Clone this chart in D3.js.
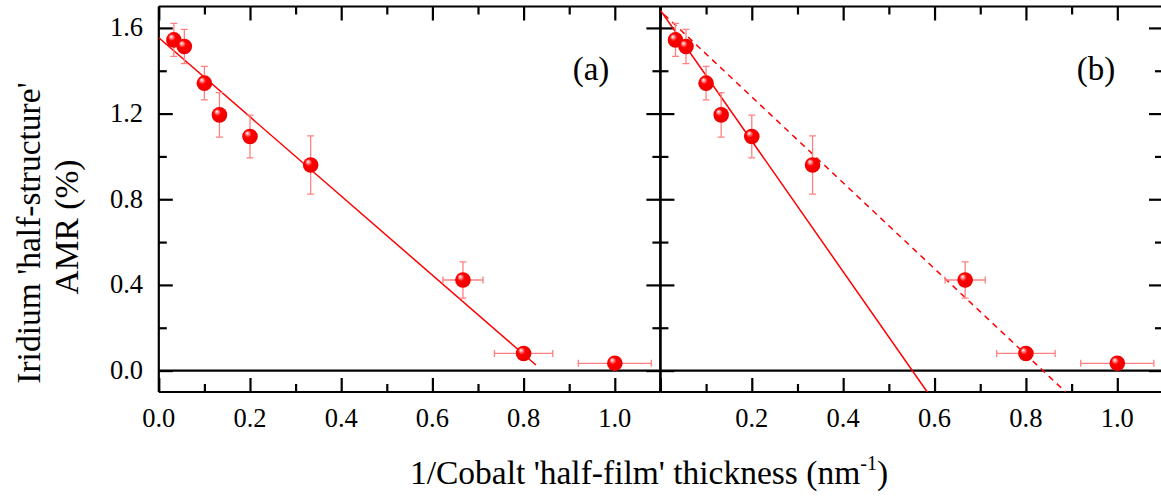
<!DOCTYPE html>
<html>
<head>
<meta charset="utf-8">
<script src="https://cdn.jsdelivr.net/npm/d3@7"></script>
<style>
  html, body { margin: 0; padding: 0; background: #fff; }
  svg { display: block; }
</style>
</head>
<body>
<svg id="chart" width="1161" height="500" font-family="'Liberation Serif', 'Times New Roman', Times, 'DejaVu Serif', serif"></svg>
<script>
// ---- data ----
const xValues = [0.033, 0.056, 0.1, 0.133, 0.2, 0.333, 0.667, 0.8, 1.0];
const amrValues = [1.544, 1.513, 1.342, 1.194, 1.093, 0.960, 0.423, 0.080, 0.034];
const amrErrors = [0.077, 0.080, 0.078, 0.104, 0.100, 0.136, 0.085, 0, 0];
const xErrors = [0, 0, 0, 0, 0, 0, 0.044, 0.064, 0.080];

const fitAx = [0, 0.827];
const fitAy = [1.554, 0.026];
const fitBx = [0, 0.584];
const fitBy = [1.683, -0.1];
const fitBdashX = [0.008, 0.887];
const fitBdashY = [1.663, -0.1];

const xTickLabelsA = [0, 0.2, 0.4, 0.6, 0.8, 1.0];
const xTickLabelsB = [0.2, 0.4, 0.6, 0.8, 1.0];
const xMajorTicks = [0, 0.2, 0.4, 0.6, 0.8, 1.0];
const xMinorTicks = [0.1, 0.3, 0.5, 0.7, 0.9, 1.1];
const yTickLabels = [0, 0.4, 0.8, 1.2, 1.6];
const yMinorTicks = [0.2, 0.6, 1.0, 1.4];
const panelLabels = ["(a)", "(b)"];
const xTitle = "1/Cobalt 'half-film' thickness (nm";
const xTitleSup = "-1";
const yTitleLines = ["Iridium 'half-structure'", "AMR (%)"];

// ---- layout ----
const svg = d3.select("#chart");
const plotTop = 6.5, plotBottom = 392;
const y = d3.scaleLinear().domain([-0.1, 1.7]).range([plotBottom, plotTop]);
const panels = [
  { x: d3.scaleLinear().domain([0, 1.1]).range([158.8, 660.4]), labels: xTickLabelsA, name: panelLabels[0], labelX: 591,
    fits: [{xs: fitAx, ys: fitAy, dash: null}] },
  { x: d3.scaleLinear().domain([0, 1.1]).range([660.4, 1163]), labels: xTickLabelsB, name: panelLabels[1], labelX: 1096,
    fits: [{xs: fitBx, ys: fitBy, dash: null}, {xs: fitBdashX, ys: fitBdashY, dash: "6,5"}] }
];

const defs = svg.append("defs");
const grad = defs.append("radialGradient").attr("id", "ball")
  .attr("cx", "45%").attr("cy", "45%").attr("r", "60%").attr("fx", "32%").attr("fy", "28%");
grad.append("stop").attr("offset", "0%").attr("stop-color", "#ffffff");
grad.append("stop").attr("offset", "14%").attr("stop-color", "#ffa0a0");
grad.append("stop").attr("offset", "38%").attr("stop-color", "#ff0000");
grad.append("stop").attr("offset", "100%").attr("stop-color", "#ea0000");

const MAJ = 14, MIN = 8;

panels.forEach((p, i) => {
  const x = p.x;
  const [x0, x1] = x.range();
  const g = svg.append("g");
  const clipId = "clip" + i;
  defs.append("clipPath").attr("id", clipId).append("rect")
    .attr("x", x0).attr("y", plotTop).attr("width", x1 - x0).attr("height", plotBottom - plotTop);

  const axes = g.append("g");
  const axB = axes.append("g").attr("transform", `translate(0,${plotBottom})`)
    .call(d3.axisTop(x).tickValues(xMajorTicks).tickSize(MAJ).tickFormat(""));
  const axBm = axes.append("g").attr("transform", `translate(0,${plotBottom})`)
    .call(d3.axisTop(x).tickValues(xMinorTicks).tickSize(MIN).tickFormat(""));
  const axT = axes.append("g").attr("transform", `translate(0,${plotTop})`)
    .call(d3.axisBottom(x).tickValues(xMajorTicks).tickSize(MAJ).tickFormat(""));
  const axTm = axes.append("g").attr("transform", `translate(0,${plotTop})`)
    .call(d3.axisBottom(x).tickValues(xMinorTicks).tickSize(MIN).tickFormat(""));
  const axL = axes.append("g").attr("transform", `translate(${x0},0)`)
    .call(d3.axisRight(y).tickValues(yTickLabels).tickSize(MAJ).tickFormat(""));
  const axLm = axes.append("g").attr("transform", `translate(${x0},0)`)
    .call(d3.axisRight(y).tickValues(yMinorTicks).tickSize(MIN).tickFormat(""));
  const axR = axes.append("g").attr("transform", `translate(${x1},0)`)
    .call(d3.axisLeft(y).tickValues(yTickLabels).tickSize(MAJ).tickFormat(""));
  const axRm = axes.append("g").attr("transform", `translate(${x1},0)`)
    .call(d3.axisLeft(y).tickValues(yMinorTicks).tickSize(MIN).tickFormat(""));

  [axBm, axTm, axLm, axRm].forEach(a => a.select(".domain").remove());
  axB.select(".domain").attr("d", `M${x0},0H${x1}`);
  axT.select(".domain").attr("d", `M${x0},0H${x1}`);
  axL.select(".domain").attr("d", `M0,${plotTop}V${plotBottom}`);
  axR.select(".domain").attr("d", `M0,${plotTop}V${plotBottom}`);
  axes.selectAll(".domain").attr("stroke", "#000").attr("stroke-width", 2.2);
  axes.selectAll(".tick line").attr("stroke", "#000").attr("stroke-width", 2.2);

  // tick labels
  g.append("g").selectAll("text").data(p.labels).join("text")
    .attr("x", d => x(d)).attr("y", 427).attr("text-anchor", "middle")
    .attr("font-size", 26.5).attr("fill", "#000").text(d => d3.format(".1f")(d));

  // zero line
  g.append("line").attr("x1", x0).attr("x2", x1).attr("y1", y(0)).attr("y2", y(0))
    .attr("stroke", "#000").attr("stroke-width", 2.2);

  // panel label
  g.append("text").attr("x", p.labelX).attr("y", 80).attr("text-anchor", "middle")
    .attr("font-size", 33).attr("fill", "#000").text(p.name);

  const dg = g.append("g").attr("clip-path", `url(#${clipId})`);
  p.fits.forEach(f => {
    const line = d3.line().x(d => x(d[0])).y(d => y(d[1]));
    const path = dg.append("path").datum(d3.zip(f.xs, f.ys)).attr("d", line)
      .attr("fill", "none").attr("stroke", "#ff0000").attr("stroke-width", 1.5);
    if (f.dash) path.attr("stroke-dasharray", f.dash);
  });

  const pts = d3.range(xValues.length).map(k => ({ x: xValues[k], y: amrValues[k], ey: amrErrors[k], ex: xErrors[k] }));
  const eb = dg.append("g").attr("stroke", "#ff8080").attr("stroke-width", 1.3).attr("fill", "none");
  const cap = 3.5;
  pts.filter(d => d.ey > 0).forEach(d => {
    const cx = x(d.x), ya = y(d.y + d.ey), yb = y(d.y - d.ey);
    eb.append("path").attr("d", `M${cx},${ya}V${yb}M${cx - cap},${ya}H${cx + cap}M${cx - cap},${yb}H${cx + cap}`);
  });
  pts.filter(d => d.ex > 0).forEach(d => {
    const cy = y(d.y), xa = x(d.x - d.ex), xb = x(d.x + d.ex);
    eb.append("path").attr("d", `M${xa},${cy}H${xb}M${xa},${cy - cap}V${cy + cap}M${xb},${cy - cap}V${cy + cap}`);
  });
  dg.append("g").selectAll("circle").data(pts).join("circle")
    .attr("cx", d => x(d.x)).attr("cy", d => y(d.y)).attr("r", 7.8)
    .attr("fill", "url(#ball)");
});

// y tick labels
svg.append("g").selectAll("text").data(yTickLabels).join("text")
  .attr("x", 143).attr("y", d => y(d) + 8.5).attr("text-anchor", "end")
  .attr("font-size", 26.5).attr("fill", "#000").text(d => d3.format(".1f")(d));

// x title
const xt = svg.append("text").attr("x", 649).attr("y", 484).attr("text-anchor", "middle")
  .attr("font-size", 33.5).attr("fill", "#000");
xt.append("tspan").text(xTitle);
xt.append("tspan").attr("dy", -14).attr("font-size", 20).text(xTitleSup);
xt.append("tspan").attr("dy", 14).text(")");

// y title
svg.append("text").attr("transform", "translate(40,233) rotate(-90)").attr("text-anchor", "middle")
  .attr("font-size", 33.5).attr("fill", "#000").text(yTitleLines[0]);
svg.append("text").attr("transform", "translate(78,227) rotate(-90)").attr("text-anchor", "middle")
  .attr("font-size", 33.5).attr("fill", "#000").text(yTitleLines[1]);
</script>
</body>
</html>
